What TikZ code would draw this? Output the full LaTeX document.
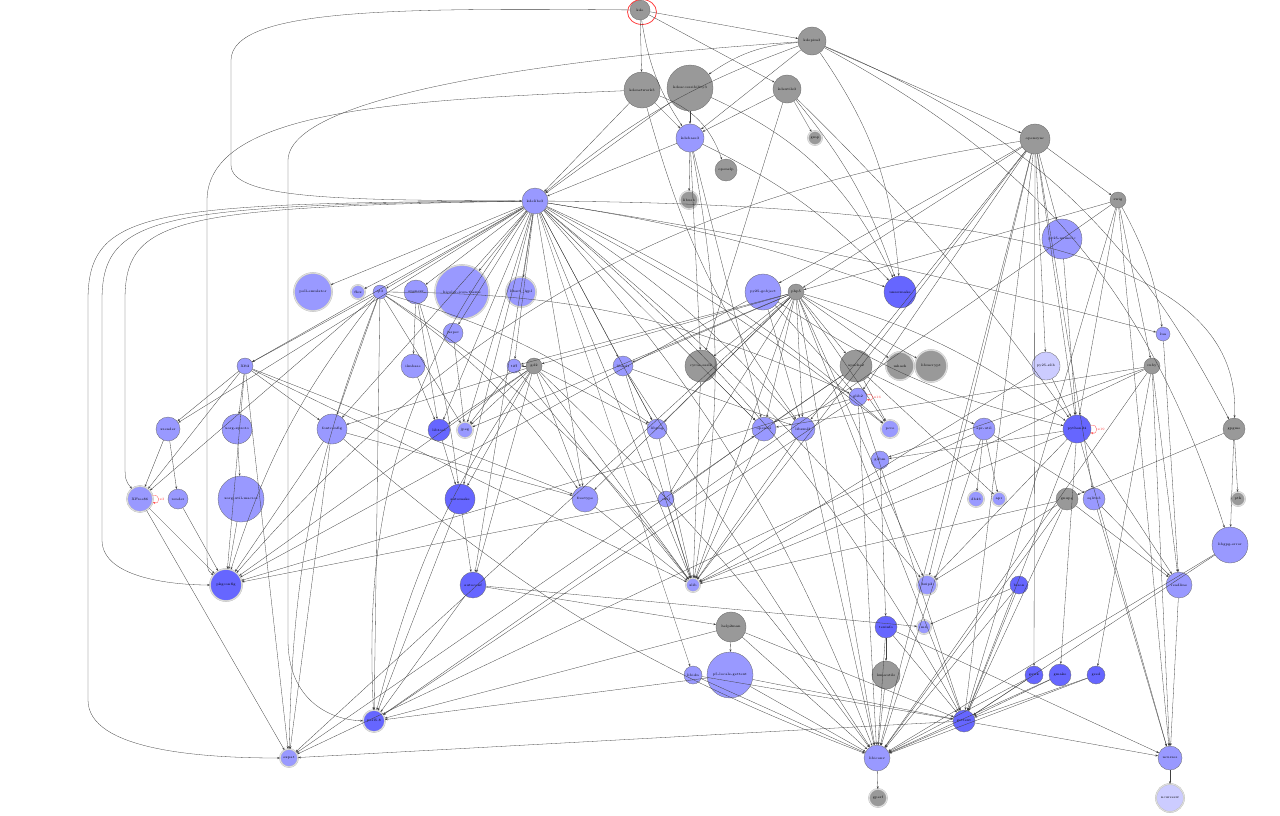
\documentclass[tikz,border=0pt]{standalone}
\usepackage{fontspec}
\usetikzlibrary{arrows.meta}
\definecolor{pkgGrey}{HTML}{999999}
\definecolor{pkgLight}{HTML}{9999FF}
\definecolor{pkgBlue}{HTML}{6666FF}
\definecolor{pkgPale}{HTML}{CCCCFF}
\begin{document}
\begin{tikzpicture}[x=1pt,y=-1pt,
    pkg/.style={circle, draw=black!60, line width=0.3pt, inner sep=0pt, font=\fontsize{3.4}{4}\selectfont},
    gpkg/.style={pkg, fill=pkgGrey},
    lpkg/.style={pkg, fill=pkgLight},
    bpkg/.style={pkg, fill=pkgBlue},
    vpkg/.style={pkg, fill=pkgPale},
    ring/.style={draw=gray!55, double=gray!25, double distance=1pt},
    >={Stealth[length=2.6pt,width=2pt]},
    every edge/.append style={draw=black!75, line width=0.3pt},
    route/.style={->, draw=black!75, line width=0.3pt},
    selfloop/.style={loop right, min distance=8pt, draw=red!70},
    looplabel/.style={text=red!80, font=\fontsize{3.4}{4}\selectfont, inner sep=1pt}]
  \useasboundingbox (0,0) rectangle (1280,815);
  % packages
  \node[gpkg, minimum size=20] (kde) at (640,10) {kde};
  \node[gpkg, minimum size=28] (kdepim) at (812,41) {kdepim3};
  \node[gpkg, minimum size=36] (kdenetwork) at (642,90) {kdenetwork3};
  \node[gpkg, minimum size=46] (kdeacc) at (690,88) {kdeaccessibility3};
  \node[gpkg, minimum size=28] (kdeutils) at (787,89) {kdeutils3};
  \node[gpkg, ring, minimum size=14] (gmp) at (815,138) {gmp};
  \node[lpkg, minimum size=28] (kdebase) at (690,138) {kdebase3};
  \node[gpkg, minimum size=22] (openslp) at (726,170) {openslp};
  \node[gpkg, ring, minimum size=18] (libusb) at (689,200) {libusb};
  \node[gpkg, minimum size=30] (opensync) at (1035,139) {opensync};
  \node[lpkg, minimum size=26] (kdelibs) at (535,201) {kdelibs3};
  \node[gpkg, minimum size=16] (swig) at (1118,200) {swig};
  \node[lpkg, minimum size=40] (pynumeric) at (1062,239) {py25-numeric};
  \node[lpkg, ring, minimum size=38] (pollemu) at (313,292) {poll-emulator};
  \node[lpkg, ring, minimum size=14] (flex) at (358,292) {flex};
  \node[lpkg, minimum size=14] (qt) at (380,292) {qt3};
  \node[lpkg, minimum size=24] (openexr) at (416,292) {openexr};
  \node[lpkg, ring, minimum size=54] (hicolor) at (462,292) {hicolor-icon-theme};
  \node[lpkg, ring, minimum size=30] (libart) at (521,292) {libart\_lgpl};
  \node[lpkg, minimum size=36] (pygobject) at (763,292) {py25-gobject};
  \node[gpkg, minimum size=16] (php) at (796,292) {php5};
  \node[bpkg, minimum size=32] (unsermake) at (900,292) {unsermake};
  \node[lpkg, minimum size=20] (jasper) at (453,333) {jasper};
  \node[lpkg, minimum size=14] (lua) at (1163,334) {lua};
  \node[lpkg, minimum size=16] (xft) at (245,366) {Xft2};
  \node[lpkg, minimum size=20] (libxslt) at (623,366) {libxslt};
  \node[lpkg, minimum size=14] (tiff) at (514,366) {tiff};
  \node[gpkg, minimum size=16] (gdtwo) at (534,366) {gd2};
  \node[lpkg, minimum size=24] (ilmbase) at (413,366) {ilmbase};
  \node[gpkg, minimum size=32] (cyrus) at (701,366) {cyrus-sasl2};
  \node[gpkg, minimum size=32] (apache) at (856,366) {apache2};
  \node[gpkg, ring, minimum size=28] (mhash) at (900,366) {mhash};
  \node[gpkg, ring, minimum size=32] (libmcrypt) at (931,366) {libmcrypt};
  \node[vpkg, minimum size=28] (pyzlib) at (1046,366) {py25-zlib};
  \node[gpkg, minimum size=16] (ruby) at (1152,366) {ruby};
  \node[lpkg, minimum size=18] (glib) at (858,397) {glib2};
  \node[lpkg, minimum size=24] (xrender) at (168,429) {xrender};
  \node[lpkg, minimum size=30] (xproto) at (237,429) {xorg-xproto};
  \node[lpkg, minimum size=30] (fontconfig) at (332,429) {fontconfig};
  \node[bpkg, minimum size=22] (libtool) at (439,430) {libtool};
  \node[lpkg, ring, minimum size=16] (jpeg) at (465,430) {jpeg};
  \node[lpkg, minimum size=20] (libpng) at (657,429) {libpng};
  \node[lpkg, minimum size=24] (openssl) at (764,429) {openssl};
  \node[lpkg, minimum size=24] (libxml) at (803,429) {libxml2};
  \node[lpkg, ring, minimum size=18] (pcre) at (890,429) {pcre};
  \node[lpkg, minimum size=22] (aprutil) at (984,429) {apr-util};
  \node[bpkg, minimum size=28] (python) at (1077,429) {python24};
  \node[gpkg, minimum size=22] (gpgme) at (1234,429) {gpgme};
  \node[lpkg, minimum size=18] (gdbm) at (880,460) {gdbm};
  \node[lpkg, ring, minimum size=26] (xfree) at (140,499) {XFree86};
  \node[lpkg, minimum size=20] (render) at (178,499) {render};
  \node[lpkg, minimum size=46] (macros) at (241,499) {xorg-util-macros};
  \node[bpkg, minimum size=30] (automake) at (460,499) {automake};
  \node[lpkg, minimum size=26] (freetype) at (585,499) {freetype};
  \node[lpkg, minimum size=16] (curl) at (666,499) {curl};
  \node[lpkg, ring, minimum size=16] (db) at (976,499) {db46};
  \node[lpkg, ring, minimum size=14] (apr) at (999,499) {apr};
  \node[gpkg, minimum size=22] (gnupg) at (1067,499) {gnupg};
  \node[lpkg, minimum size=22] (sqlite) at (1094,499) {sqlite3};
  \node[gpkg, ring, minimum size=14] (pth) at (1238,499) {pth};
  \node[lpkg, minimum size=36] (gpgerror) at (1230,545) {libgpg-error};
  \node[bpkg, ring, minimum size=32] (pkgconfig) at (226,585) {pkgconfig};
  \node[bpkg, minimum size=26] (autoconf) at (473,585) {autoconf};
  \node[lpkg, ring, minimum size=14] (zlib) at (693,585) {zlib};
  \node[lpkg, ring, minimum size=20] (bzip) at (927,585) {bzip2};
  \node[bpkg, minimum size=18] (bison) at (1019,585) {bison};
  \node[lpkg, minimum size=26] (readline) at (1179,585) {readline};
  \node[gpkg, minimum size=30] (helpman) at (731,627) {help2man};
  \node[lpkg, ring, minimum size=14] (mfour) at (924,627) {m4};
  \node[bpkg, minimum size=22] (texinfo) at (886,627) {texinfo};
  \node[lpkg, minimum size=18] (libidn) at (693,675) {libidn};
  \node[lpkg, minimum size=46] (plocale) at (730,675) {p5-locale-gettext};
  \node[gpkg, minimum size=28] (lzma) at (886,675) {lzmautils};
  \node[bpkg, minimum size=18] (gawk) at (1034,675) {gawk};
  \node[bpkg, minimum size=22] (gmake) at (1060,675) {gmake};
  \node[bpkg, minimum size=18] (gsed) at (1096,675) {gsed};
  \node[bpkg, ring, minimum size=22] (perl) at (374,721) {perl5.8};
  \node[bpkg, minimum size=22] (gettext) at (964,721) {gettext};
  \node[lpkg, ring, minimum size=18] (expat) at (289,758) {expat};
  \node[lpkg, minimum size=26] (libiconv) at (877,758) {libiconv};
  \node[lpkg, minimum size=24] (ncurses) at (1170,758) {ncurses};
  \node[gpkg, ring, minimum size=18] (gperf) at (878,798) {gperf};
  \node[vpkg, ring, minimum size=28] (ncursesw) at (1170,798) {ncursesw};
  \draw[red!75, line width=0.8pt] (642,12) ellipse (14.5 and 12.5);
  % dependencies routed round the left side
  \draw[route] (kde) .. controls (400,8) and (232,8) .. (231,60) -- (231,165)
    .. controls (231,200) and (350,200) .. (kdelibs);
  \draw[route] (kdepim) .. controls (600,55) and (290,90) .. (288,160) -- (288,640)
    .. controls (288,700) and (330,720) .. (perl);
  \draw[route] (kdenetwork) .. controls (400,100) and (208,110) .. (207,200) -- (207,540)
    .. controls (207,570) .. (pkgconfig);
  \draw[route] (kdelibs) .. controls (150,203) and (88,210) .. (88,300) -- (88,700)
    .. controls (88,750) and (200,758) .. (expat);
  \draw[route] (kdelibs) .. controls (160,205) and (102,215) .. (102,300) -- (102,540)
    .. controls (102,580) and (180,585) .. (pkgconfig);
  \draw[route] (kdelibs) .. controls (170,207) and (125,220) .. (125,300) -- (125,460)
    .. controls (125,480) .. (xfree);
  \draw[route] (kdelibs) .. controls (1120,205) and (1240,300) .. (gpgme);
  % dependencies
  \draw[->] (kde) edge (kdepim) edge (kdenetwork) edge (kdeutils)
    edge[bend right=12] (kdebase);
  \draw[->] (kdepim) edge[bend right=15] (kdeacc) edge (kdebase) edge[bend right=10] (kdelibs)
    edge (opensync) edge[bend left=15] (unsermake) edge[bend left=20] (gpgme)
    edge[bend left=22] (gpgerror);
  \draw[->] (kdenetwork) edge (kdebase) edge[bend left=25] (openslp)
    edge (kdelibs) edge[bend right=10] (libxml);
  \draw[->] (kdeacc) edge (kdebase) edge (kdelibs) edge[bend left=20] (unsermake);
  \draw[->] (kdeutils) edge (kdebase) edge (gmp) edge[bend left=10] (unsermake)
    edge (cyrus) edge[bend left=5] (python);
  \draw[->] (kdebase) edge (kdelibs) edge (libusb) edge (cyrus) edge[bend left=10] (unsermake)
    edge (openssl) edge[bend left=10] (zlib);
  \draw[->] (kdelibs) edge (pollemu) edge (flex) edge (qt) edge (openexr) edge (hicolor)
    edge (libart) edge (jasper) edge (xft) edge (libxslt) edge[bend left=8] (libxml)
    edge[bend left=5] (pcre) edge (openssl) edge[bend left=5] (unsermake) edge[bend left=3] (lua)
    edge (zlib) edge (freetype) edge (fontconfig)
    edge (xrender) edge[bend right=20] (perl)
    edge[bend left=10] (libiconv) edge (autoconf) edge (automake)
    edge (libtool) edge[bend left=5] (bzip) edge (jpeg) edge (libpng) edge (tiff)
    edge[bend left=10] (gettext) edge (libidn) edge[bend left=8] (pcre);
  \draw[->] (qt) edge (xft) edge (jpeg) edge[bend left=10] (libpng) edge[bend left=10] (zlib)
    edge (perl) edge[bend right=10] (expat) edge[bend left=10] (freetype) edge (fontconfig)
    edge (xfree) edge[bend right=10] (pkgconfig) edge[bend left=12] (glib);
  \draw[->] (openexr) edge (ilmbase) edge (libtool) edge[bend left=5] (automake);
  \draw[->] (ilmbase) edge (libtool);
  \draw[->] (jasper) edge (jpeg);
  \draw[->] (xft) edge (xrender) edge (xproto) edge (fontconfig) edge (freetype)
    edge (pkgconfig) edge (xfree) edge (expat) edge (zlib);
  \draw[->] (xrender) edge (xfree) edge (render);
  \draw[->] (render) edge (pkgconfig);
  \draw[->] (xproto) edge (macros);
  \draw[->] (macros) edge (pkgconfig);
  \draw[->] (fontconfig) edge (freetype) edge (expat) edge[bend right=10] (libiconv) edge (pkgconfig);
  \draw[->] (freetype) edge (zlib);
  \draw[->] (tiff) edge (jpeg) edge (zlib);
  \draw[->] (gdtwo) edge (libtool) edge (jpeg) edge (libpng) edge (freetype) edge (fontconfig)
    edge (zlib) edge[bend left=5] (libiconv) edge (tiff) edge (automake) edge (autoconf)
    edge[bend right=10] (perl) edge (pkgconfig);
  \draw[->] (libxslt) edge (libxml) edge (libiconv) edge (zlib) edge (libpng);
  \draw[->] (libpng) edge (zlib);
  \draw[->] (curl) edge (zlib) edge (openssl) edge (pkgconfig);
  \draw[->] (cyrus) edge (openssl) edge (zlib);
  \draw[->] (openssl) edge (zlib);
  \draw[->] (libxml) edge (zlib) edge (libiconv);
  \draw[->] (php) edge (gdtwo) edge (libxml) edge (libxslt) edge (apache) edge (mhash)
    edge (libmcrypt) edge (openssl) edge (pcre) edge (curl) edge (libpng) edge (jpeg)
    edge (tiff) edge (freetype) edge (zlib) edge (libiconv) edge (gettext) edge (cyrus)
    edge[bend left=10] (python) edge (bzip) edge (expat);
  \draw[->] (apache) edge (aprutil) edge (pcre) edge (openssl) edge (apr) edge (expat);
  \draw[->] (aprutil) edge (db) edge (apr) edge (sqlite) edge (expat) edge (libiconv);
  \draw[->] (pygobject) edge (glib) edge[bend right=10] (python) edge (libxml) edge (pkgconfig);
  \draw[->] (glib) edge (gettext) edge (libiconv) edge (pkgconfig) edge (perl);
  \draw[->] (pynumeric) edge (python);
  \draw[->] (pyzlib) edge (python) edge (zlib);
  \draw[->] (opensync) edge (swig) edge (pynumeric) edge (python) edge (glib) edge (libxml)
    edge (sqlite) edge (pygobject) edge (pyzlib) edge (php) edge[bend right=20] (pkgconfig)
    edge (gettext) edge (libiconv) edge (bzip) edge (zlib) edge (gawk);
  \draw[->] (swig) edge (ruby) edge (python) edge (php) edge[bend left=10] (lua)
    edge (perl) edge (gettext) edge (ncurses);
  \draw[->] (ruby) edge (readline) edge (ncurses) edge (openssl) edge (zlib) edge (libiconv)
    edge (gdbm) edge (gsed);
  \draw[->] (lua) edge (readline);
  \draw[->] (python) edge (readline) edge (ncurses) edge (bzip) edge (zlib) edge (gettext)
    edge (gdbm) edge (gmake);
  \draw[->] (gpgme) edge (gnupg) edge (pth) edge (gpgerror);
  \draw[->] (gnupg) edge (bzip) edge (readline) edge (gettext) edge (zlib) edge (libiconv);
  \draw[->] (gpgerror) edge (gettext) edge (libiconv);
  \draw[->] (sqlite) edge (readline) edge (ncurses);
  \draw[->] (readline) edge (ncurses);
  \draw[->] (ncurses) edge (ncursesw);
  \draw[->] (gettext) edge (libiconv) edge (ncurses) edge (expat);
  \draw[->] (libiconv) edge (gperf);
  \draw[->] (texinfo) edge (gettext) edge (libiconv) edge (lzma) edge (ncurses);
  \draw[->] (lzma) edge (libiconv);
  \draw[->] (gdbm) edge (texinfo);
  \draw[->] (helpman) edge (plocale) edge (perl) edge (gettext) edge (libiconv);
  \draw[->] (plocale) edge (perl) edge (gettext) edge (libiconv);
  \draw[->] (libidn) edge (gettext) edge (libiconv);
  \draw[->] (bison) edge (mfour) edge (gettext) edge (libiconv);
  \draw[->] (gawk) edge (gettext) edge (libiconv);
  \draw[->] (gmake) edge (gettext) edge (libiconv);
  \draw[->] (gsed) edge (gettext) edge (libiconv);
  \draw[->] (autoconf) edge (perl) edge (mfour) edge (helpman);
  \draw[->] (automake) edge (autoconf) edge (perl);
  \draw[->] (libtool) edge (automake);
  \draw[->] (xfree) edge (pkgconfig) edge (expat);
  % duplicated dependencies
  \draw[->] (xfree) edge[selfloop] node[looplabel, right] {x3} (xfree);
  \draw[->] (glib) edge[selfloop] node[looplabel, right] {x16} (glib);
  \draw[->] (python) edge[selfloop] node[looplabel, right] {x19} (python);
\end{tikzpicture}
\end{document}
